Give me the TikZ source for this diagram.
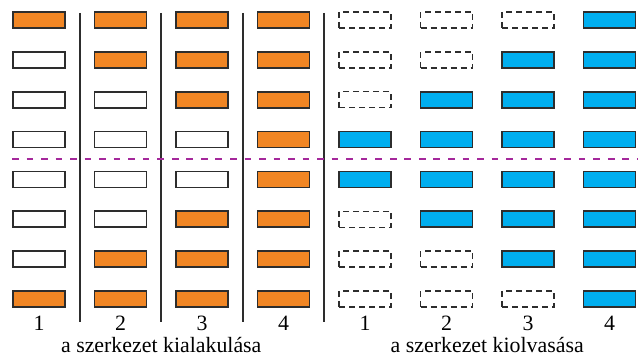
\documentclass[tikz,border=0pt]{standalone}
\usepackage{fontspec}
\setmainfont{Liberation Serif}
\definecolor{narancs}{RGB}{241,134,36}
\definecolor{kekszin}{RGB}{0,174,239}
\definecolor{keret}{RGB}{45,45,45}
\definecolor{lila}{RGB}{165,40,155}

\begin{document}
\begin{tikzpicture}[x=0.75pt,y=-0.75pt,
    doboz/.style={draw=keret,line width=1.25pt,minimum width=39pt,minimum height=12pt,inner sep=0pt},
    teli/.style={doboz,fill=narancs},
    ures/.style={doboz,fill=white},
    kek/.style={doboz,fill=kekszin},
    hiany/.style={doboz,line width=1.1pt,dash pattern=on 4.5pt off 3pt},
    valaszto/.style={draw=keret,line width=1.4pt},
    hatar/.style={draw=lila,line width=1.3pt,dash pattern=on 5pt off 5.9pt},
    felirat/.style={font=\fontsize{16.4}{20}\selectfont,inner sep=0pt}]
            \useasboundingbox (0,0) rectangle (638,356);

            % oszlopok: bal oldal kialakulas, jobb oldal kiolvasas
            \foreach \c/\sor in {
                1/{teli,ures,ures,ures,ures,ures,ures,teli},
                2/{teli,teli,ures,ures,ures,ures,teli,teli},
                3/{teli,teli,teli,ures,ures,teli,teli,teli},
                4/{teli,teli,teli,teli,teli,teli,teli,teli},
                5/{hiany,hiany,hiany,kek,kek,hiany,hiany,hiany},
                6/{hiany,hiany,kek,kek,kek,kek,hiany,hiany},
                7/{hiany,kek,kek,kek,kek,kek,kek,hiany},
                8/{kek,kek,kek,kek,kek,kek,kek,kek}}{
                \foreach \s [count=\r] in \sor
                    \node[\s] (d\c-\r) at ({39+81.5*(\c-1)}, {20+39.85*(\r-1)}) {};
                \pgfmathtruncatemacro\n{mod(\c-1,4)+1}
                \node[felirat] (sz\c) at ({39+81.5*(\c-1)}, 323) {\n};
            }

            \foreach \k in {0,...,3}
                \draw[valaszto] ({79.75+81.5*\k}, 13) -- ({79.75+81.5*\k}, 322);

            \draw[hatar] (12,159.3) -- (638,159.3);

            \node[felirat] (kialakulas) at (161.25, 345.5) {a szerkezet kialakulása};
            \node[felirat] (kiolvasas) at (487.25, 345.5) {a szerkezet kiolvasása};
        \end{tikzpicture}
\end{document}
